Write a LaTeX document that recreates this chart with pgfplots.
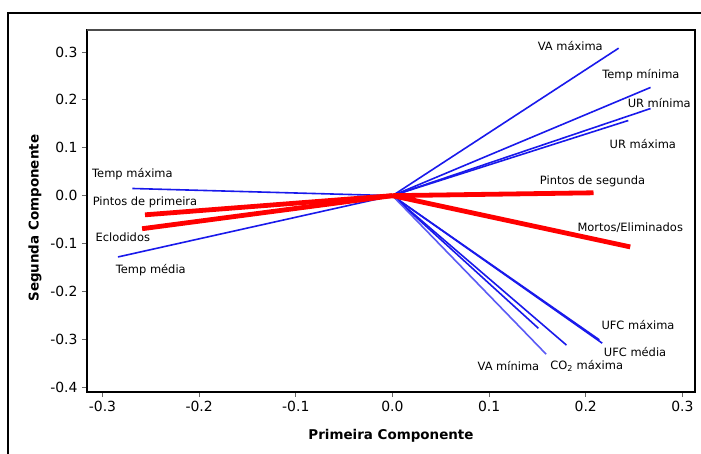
\documentclass[border=0pt]{standalone}
\usepackage{fontspec}
\setmainfont{DejaVu Sans}
\usepackage{pgfplots}
\pgfplotsset{compat=1.18}
\definecolor{vblue}{RGB}{25,25,235}
\definecolor{vblue2}{RGB}{90,90,245}
\definecolor{vred}{RGB}{255,0,0}
\begin{document}
\begin{tikzpicture}
\begin{axis}[
  scale only axis,
  width=608bp, height=362bp,
  xmin=-0.316, xmax=0.313,
  ymin=-0.41, ymax=0.346,
  clip=false,
  axis line style={line width=1.5bp, black},
  xtick={-0.3,-0.2,-0.1,0,0.1,0.2,0.3},
  ytick={-0.4,-0.3,-0.2,-0.1,0,0.1,0.2,0.3},
  xtick pos=bottom, ytick pos=left,
  tick align=outside,
  major tick length=5bp,
  tick style={black!60, line width=1bp},
  /pgf/number format/.cd, fixed, fixed zerofill, precision=1, assume math mode=true,
  /pgfplots/.cd,
  ticklabel style={font=\fontsize{14}{16}\selectfont},
  xticklabel style={yshift=-1bp},
  yticklabel style={xshift=-1bp},
  xlabel={\textbf{Primeira Componente}},
  ylabel={\textbf{Segunda Componente}},
  label style={font=\fontsize{13.5}{16}\selectfont},
  xlabel style={at={(axis description cs:0.5,0)}, anchor=center, yshift=-44bp},
  ylabel style={at={(axis description cs:0,0.48)}, anchor=center, rotate=0, yshift=52bp},
]
% blue vectors
\addplot[vblue, line width=1.6bp] coordinates {(0,0) (0.234,0.308)};   % VA maxima
\addplot[vblue, line width=1.6bp] coordinates {(0,0) (0.267,0.226)};   % Temp minima
\addplot[vblue, line width=1.6bp] coordinates {(0,0) (0.267,0.182)};   % UR minima
\addplot[vblue, line width=1.6bp] coordinates {(0,0) (0.244,0.157)};   % UR maxima
\addplot[vblue, line width=1.6bp] coordinates {(0,0) (0.217,-0.308)};  % UFC maxima
\addplot[vblue, line width=1.6bp] coordinates {(0,0) (0.214,-0.301)};  % UFC media
\addplot[vblue, line width=1.6bp] coordinates {(0,0) (0.180,-0.312)};  % CO2 maxima
\addplot[vblue, line width=1.6bp] coordinates {(0,0) (0.151,-0.277)};
\addplot[vblue2, line width=1.6bp] coordinates {(0,0) (0.159,-0.331)}; % VA minima
\addplot[vblue, line width=1.6bp] coordinates {(0,0) (-0.269,0.015)};  % Temp maxima
\addplot[vblue, line width=1.6bp] coordinates {(0,0) (-0.284,-0.128)}; % Temp media
% red vectors
\addplot[vred, line width=4.8bp] coordinates {(0,0) (0.208,0.006)};    % Pintos de segunda
\addplot[vred, line width=4.8bp] coordinates {(0,0) (0.246,-0.107)};   % Mortos/Eliminados
\addplot[vred, line width=4.8bp] coordinates {(0,0) (-0.256,-0.040)};  % Pintos de primeira
\addplot[vred, line width=4.8bp] coordinates {(0,0) (-0.259,-0.069)};  % Eclodidos
% labels
\begin{scope}[every node/.style={font=\fontsize{11.5}{13}\selectfont, inner sep=0pt}]
\node at (axis cs:0.184,0.312) {VA máxima};
\node at (axis cs:0.257,0.252) {Temp mínima};
\node at (axis cs:0.276,0.193) {UR mínima};
\node at (axis cs:0.259,0.107) {UR máxima};
\node at (axis cs:0.207,0.029) {Pintos de segunda};
\node at (axis cs:0.246,-0.067) {Mortos/Eliminados};
\node at (axis cs:0.254,-0.270) {UFC máxima};
\node at (axis cs:0.251,-0.327) {UFC média};
\node at (axis cs:0.120,-0.356) {VA mínima};
\node at (axis cs:0.201,-0.356) {CO\textsubscript{2} máxima};
\node at (axis cs:-0.269,0.044) {Temp máxima};
\node at (axis cs:-0.256,-0.013) {Pintos de primeira};
\node at (axis cs:-0.279,-0.086) {Eclodidos};
\node at (axis cs:-0.250,-0.155) {Temp média};
\end{scope}
\end{axis}
\draw[line width=2.5bp, black!70] (current axis.north west) -- ++(303bp,0);
\draw[line width=2bp] ([shift={(-79bp,-80bp)}]current axis.south west) -- ([shift={(-79bp,17bp)}]current axis.north west) -- ([shift={(30bp,17bp)}]current axis.north east);
\pgfresetboundingbox
\useasboundingbox ([shift={(-87bp,-62bp)}]current axis.south west) rectangle ([shift={(6bp,30bp)}]current axis.north east);
\end{tikzpicture}
\end{document}
